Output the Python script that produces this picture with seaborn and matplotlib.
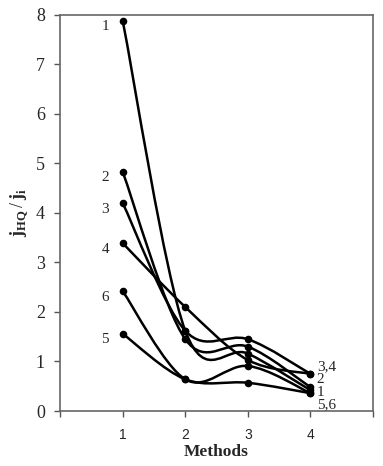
import numpy as np
import pandas as pd
import matplotlib
matplotlib.use("Agg")
import matplotlib.pyplot as plt
from matplotlib.path import Path
from matplotlib.patches import PathPatch
import seaborn as sns

sns.set_style("white")
plt.rcParams['font.family'] = ['Liberation Serif', 'DejaVu Serif']
plt.rcParams['mathtext.fontset'] = 'custom'
plt.rcParams['mathtext.rm'] = 'Liberation Serif'
plt.rcParams['mathtext.bf'] = 'Liberation Serif:bold'

methods = [1, 2, 3, 4]
s1 = [7.88, 1.62, 1.16, 0.42]
s2 = [4.83, 1.45, 1.30, 0.48]
s3 = [4.20, 1.62, 1.45, 0.75]
s4 = [3.39, 2.10, 1.03, 0.75]
s5 = [1.56, 0.64, 0.57, 0.36]
s6 = [2.42, 0.64, 0.91, 0.36]
series_names = ['1', '2', '3', '4', '5', '6']
all_series = [s1, s2, s3, s4, s5, s6]
right_labels = ['3,4', '2', '1', '5,6']
right_label_y = [0.90, 0.64, 0.38, 0.12]

rows = []
for name, vals in zip(series_names, all_series):
    for m, v in zip(methods, vals):
        rows.append({'series': name, 'method': m, 'ratio': v})
df = pd.DataFrame(rows)


def smooth_path(xs, ys):
    # excel-like smoothed line: cubic bezier through the points
    pts = np.column_stack([xs, ys]).astype(float)
    n = len(pts)
    verts = [pts[0]]
    codes = [Path.MOVETO]
    for i in range(n - 1):
        p0 = pts[i - 1] if i > 0 else pts[i]
        p1 = pts[i]
        p2 = pts[i + 1]
        p3 = pts[i + 2] if i + 2 < n else pts[i + 1]
        c1 = p1 + (p2 - p0) / 6.0
        c2 = p2 - (p3 - p1) / 6.0
        verts += [c1, c2, p2]
        codes += [Path.CURVE4] * 3
    return Path(verts, codes)


fig = plt.figure(figsize=(3.83, 4.66), dpi=100)
ax = fig.add_axes([0.157, 0.118, 0.817, 0.850])

for name, g in df.groupby('series'):
    ax.add_patch(PathPatch(smooth_path(g['method'], g['ratio']),
                           facecolor='none', edgecolor='black', lw=1.8, zorder=2))

sns.scatterplot(data=df, x='method', y='ratio', color='black', s=30,
                edgecolor='black', linewidth=0, legend=False, ax=ax, zorder=3)

for name, vals in zip(series_names, all_series):
    ax.text(0.78, vals[0] - 0.12, name, ha='right', va='center', fontsize=11)
for lab, yv in zip(right_labels, right_label_y):
    ax.text(4.1, yv, lab, ha='left', va='center', fontsize=11)

ax.set_xlim(0, 5)
ax.set_ylim(0, 8)
ax.set_xticks([0, 1, 2, 3, 4, 5])
ax.set_xticklabels(['', '1', '2', '3', '4', ''], family=['Liberation Sans', 'DejaVu Sans'], fontsize=10)
ax.set_yticks(range(0, 9))
ax.tick_params(axis='y', labelsize=13, direction='out', length=4, left=True, width=1,
               color='#555555', pad=7)
ax.tick_params(axis='x', direction='out', length=4, bottom=True, width=1, color='#555555', pad=8)
for sp in ax.spines.values():
    sp.set_color('#666666')
    sp.set_linewidth(1.2)
ax.set_xlabel('Methods', fontsize=12.5, fontweight='bold', labelpad=2)
ax.set_ylabel(r'$\mathbf{j}_{\mathbf{HQ}}\,/\,\mathbf{j}_{\mathbf{i}}$', fontsize=13, labelpad=4)

fig.savefig('out.png', dpi=100)
